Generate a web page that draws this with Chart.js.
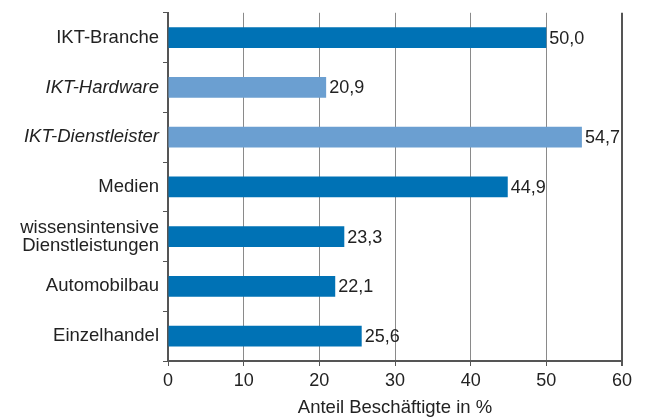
<!DOCTYPE html>
<html>
<head>
<meta charset="utf-8">
<script src="https://cdn.jsdelivr.net/npm/chart.js@4"></script>
<style>
html,body{margin:0;padding:0;background:#fff;}
#wrap{width:646px;height:420px;}
</style>
</head>
<body>
<div id="wrap"><canvas id="c" width="646" height="420"></canvas></div>
<script>
const categories = ["IKT-Branche", "IKT-Hardware", "IKT-Dienstleister", "Medien", ["wissensintensive", "Dienstleistungen"], "Automobilbau", "Einzelhandel"];
const values = [50.0, 20.9, 54.7, 44.9, 23.3, 22.1, 25.6];
const italicIndex = [1, 2];
const xTicks = [0, 10, 20, 30, 40, 50, 60];
const axisTitle = "Anteil Beschäftigte in %";
const darkBlue = "#0072B5";
const lightBlue = "#6B9FD1";

Chart.defaults.font.family = "'Liberation Sans', Arial, Helvetica, sans-serif";
Chart.defaults.font.size = 18;
Chart.defaults.color = "#222";

const valueLabels = {
  id: "valueLabels",
  afterDatasetsDraw(chart) {
    const ctx = chart.ctx;
    const meta = chart.getDatasetMeta(0);
    ctx.save();
    ctx.font = "18px 'Liberation Sans', Arial, sans-serif";
    ctx.fillStyle = "#222";
    ctx.textAlign = "left";
    ctx.textBaseline = "middle";
    meta.data.forEach((el, i) => {
      const t = values[i].toFixed(1).replace(".", ",");
      ctx.fillText(t, el.x + 3, el.y + 1);
    });
    ctx.restore();
  }
};

new Chart(document.getElementById("c"), {
  type: "bar",
  data: {
    labels: categories,
    datasets: [{
      data: values,
      backgroundColor: values.map((v, i) => italicIndex.includes(i) ? lightBlue : darkBlue),
      barPercentage: 0.42,
      categoryPercentage: 1.0,
      borderWidth: 0
    }]
  },
  options: {
    indexAxis: "y",
    responsive: false,
    animation: false,
    devicePixelRatio: 1,
    layout: { padding: { top: 12, right: 24, left: 0, bottom: 0 } },
    plugins: { legend: { display: false }, tooltip: { enabled: false } },
    scales: {
      x: {
        min: 0, max: 60,
        afterBuildTicks: (s) => { s.ticks = xTicks.map(v => ({ value: v })); },
        afterFit: (s) => { s.height = 59; },
        grid: {
          color: (c) => c.tick && c.tick.value === 60 ? "#555" : "#8a8a8a",
          lineWidth: (c) => c.tick && c.tick.value === 60 ? 2 : 1,
          tickColor: "#555",
          tickLength: 5,
          drawOnChartArea: true
        },
        border: { display: true, color: "#555", width: 2 },
        ticks: { padding: 4, font: { size: 18 }, color: "#222" },
        title: { display: true, text: axisTitle, font: { size: 18.5 }, color: "#222", padding: { top: 0, bottom: 1 } }
      },
      y: {
        afterFit: (s) => { s.width = 168; },
        grid: {
          offset: true,
          drawOnChartArea: false,
          drawTicks: true,
          tickLength: 5,
          color: "#555",
          tickColor: "#555"
        },
        border: { display: true, color: "#555", width: 2 },
        ticks: {
          padding: 4,
          color: "#222",
          font: (c) => ({ size: 18.5, style: italicIndex.includes(c.index) ? "italic" : "normal", lineHeight: 0.95 })
        }
      }
    }
  },
  plugins: [valueLabels]
});
</script>
</body>
</html>
